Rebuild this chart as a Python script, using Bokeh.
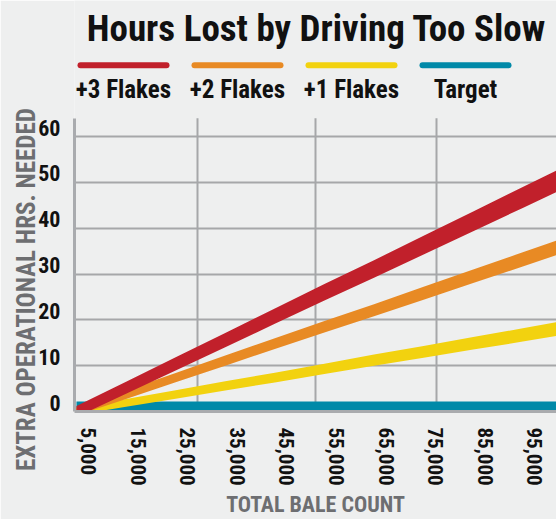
import math
import numpy as np
from bokeh.plotting import figure
from bokeh.models import Range1d, FixedTicker
from bokeh.core.properties import value
from bokeh.embed import file_html
from bokeh.resources import INLINE

# ---- data ----
bale_count = [5000, 15000, 25000, 35000, 45000, 55000, 65000, 75000, 85000, 95000, 105000]
flakes_3 = [0, 5.2, 10.4, 15.6, 20.8, 26.0, 31.1, 36.3, 41.5, 46.7, 51.9]
flakes_2 = [0, 3.7, 7.4, 11.1, 14.8, 18.5, 22.1, 25.8, 29.5, 33.2, 36.9]
flakes_1 = [0, 1.9, 3.7, 5.6, 7.4, 9.3, 11.2, 13.0, 14.9, 16.7, 18.6]
target = [0, 0, 0, 0, 0, 0, 0, 0, 0, 0, 0]
series_names = ["+3 Flakes", "+2 Flakes", "+1 Flakes", "Target"]
x_tick_values = [5000, 15000, 25000, 35000, 45000, 55000, 65000, 75000, 85000, 95000]
y_tick_values = [0, 10, 20, 30, 40, 50, 60]
y_axis_max = 64
title_text = "Hours Lost by Driving Too Slow"
x_title = "TOTAL BALE COUNT"
y_title = "EXTRA OPERATIONAL HRS. NEEDED"

# ---- style ----
colors = ["#c1202b", "#e88a24", "#f2d20f", "#0089a8"]
FONT = "Roboto Condensed"
BG = "#eeefef"
GRID = "#a6a7a9"
AXIS_GRAY = "#6d6e71"
W, H = 556, 519
FL, FR, FB = 74, 556, 412          # frame edges in page pixels (frame top = 0, header lives there)
CHART_TOP = 118                    # page pixel of the chart's top (y = y_axis_max)
X0, X1 = 4600, 101800
px_per_y = (FB - CHART_TOP) / y_axis_max
Y_TOP = FB / px_per_y
px_per_x = (FR - FL) / (X1 - X0)


def dx(px):
    return X0 + (px - FL) / px_per_x


def dy(py):
    return (FB - py) / px_per_y


p = figure(width=W, height=H, x_range=Range1d(X0, X1), y_range=Range1d(0, Y_TOP),
           output_backend="svg", toolbar_location=None,
           min_border_left=FL, min_border_right=W - FR, min_border_top=0, min_border_bottom=H - FB,
           background_fill_color=BG, border_fill_color=BG, outline_line_color=None)

# vertical guide lines of the chart area
p.xgrid.visible = False
vx = [dx(197), dx(315), dx(436)]
p.segment(x0=vx, x1=vx, y0=[0] * 3, y1=[y_axis_max] * 3, line_color=GRID, line_width=2)
p.ygrid.ticker = FixedTicker(ticks=y_tick_values[1:])
p.ygrid.grid_line_color = GRID
p.ygrid.grid_line_width = 2

xs = np.array(bale_count, dtype=float)
frac = (xs - xs[0]) / (xs[-1] - xs[0])


def band(vals, h0, h1):
    v = np.array(vals, dtype=float)
    h = (h0 + (h1 - h0) * frac) / px_per_y
    return v - h, v + h


tv = np.array(target, dtype=float)
p.varea(x=xs, y1=tv, y2=tv + 10 / px_per_y, fill_color=colors[3])
for vals, col, h0, h1 in [(flakes_1, colors[2], 3.5, 7.0),
                          (flakes_2, colors[1], 4.0, 7.5),
                          (flakes_3, colors[0], 5.5, 11.0)]:
    lo, hi = band(vals, h0, h1)
    p.varea(x=xs, y1=lo, y2=hi, fill_color=col)

# axes (tick labels sit slightly offset from their gridlines, as in the reference)
x_shift = 12 / px_per_x
y_shift = 9 / px_per_y
p.xaxis.ticker = FixedTicker(ticks=[v + x_shift for v in x_tick_values])
p.xaxis.major_label_overrides = {v + x_shift: f"{v:,}" for v in x_tick_values}
p.xaxis.major_label_orientation = -math.pi / 2
p.yaxis.ticker = FixedTicker(ticks=[v + y_shift for v in y_tick_values])
p.yaxis.major_label_overrides = {v + y_shift: str(v) for v in y_tick_values}
p.yaxis.bounds = (0, y_axis_max)
for ax in (p.xaxis[0], p.yaxis[0]):
    ax.axis_line_color = "#a9abae"
    ax.axis_line_width = 3
    ax.major_tick_line_color = None
    ax.minor_tick_line_color = None
    ax.major_label_text_font = FONT
    ax.major_label_text_font_style = "bold"
    ax.major_label_text_color = "#111111"
    ax.axis_label_text_font = FONT
    ax.axis_label_text_font_style = "bold"
    ax.axis_label_text_color = AXIS_GRAY
    ax.axis_label_text_line_height = 1.0
p.xaxis.major_label_text_font_size = "21px"
p.yaxis.major_label_text_font_size = "22px"
p.xaxis.major_label_standoff = 10
p.yaxis.major_label_standoff = 8
p.xaxis.axis_label = x_title
p.xaxis.axis_label_text_font_size = "22px"
p.xaxis.axis_label_standoff = 3
# the axis title is centred on the whole frame (which also holds the header); trailing
# no-break spaces move the visible words down to the middle of the chart area
p.yaxis.axis_label = y_title + "\u00a0" * 29
p.yaxis.axis_label_text_font_size = "25px"
p.yaxis.axis_label_standoff = -6

# chart title and legend (header area above the chart)
p.text(x=[dx(316)], y=[dy(28.5)], text=[title_text], text_font=value(FONT), text_font_style="bold",
       text_font_size="37px", text_color="#111111", text_align="center", text_baseline="middle")
centers = [dx(123 + 114 * i) for i in range(len(series_names))]
half = 43 / px_per_x
p.segment(x0=[c - half for c in centers], x1=[c + half for c in centers],
          y0=[dy(65)] * 4, y1=[dy(65)] * 4, line_width=6, line_cap="round", line_color=colors)
p.text(x=centers, y=[dy(89)] * 4, text=series_names, text_font=value(FONT), text_font_style="bold",
       text_font_size="25px", text_color="#111111", text_align="center", text_baseline="middle")

html = file_html(p, INLINE)
html = html.replace("<body>", '<body style="margin:0;background-color:%s">' % BG, 1)
open("out.html", "w").write(html)
